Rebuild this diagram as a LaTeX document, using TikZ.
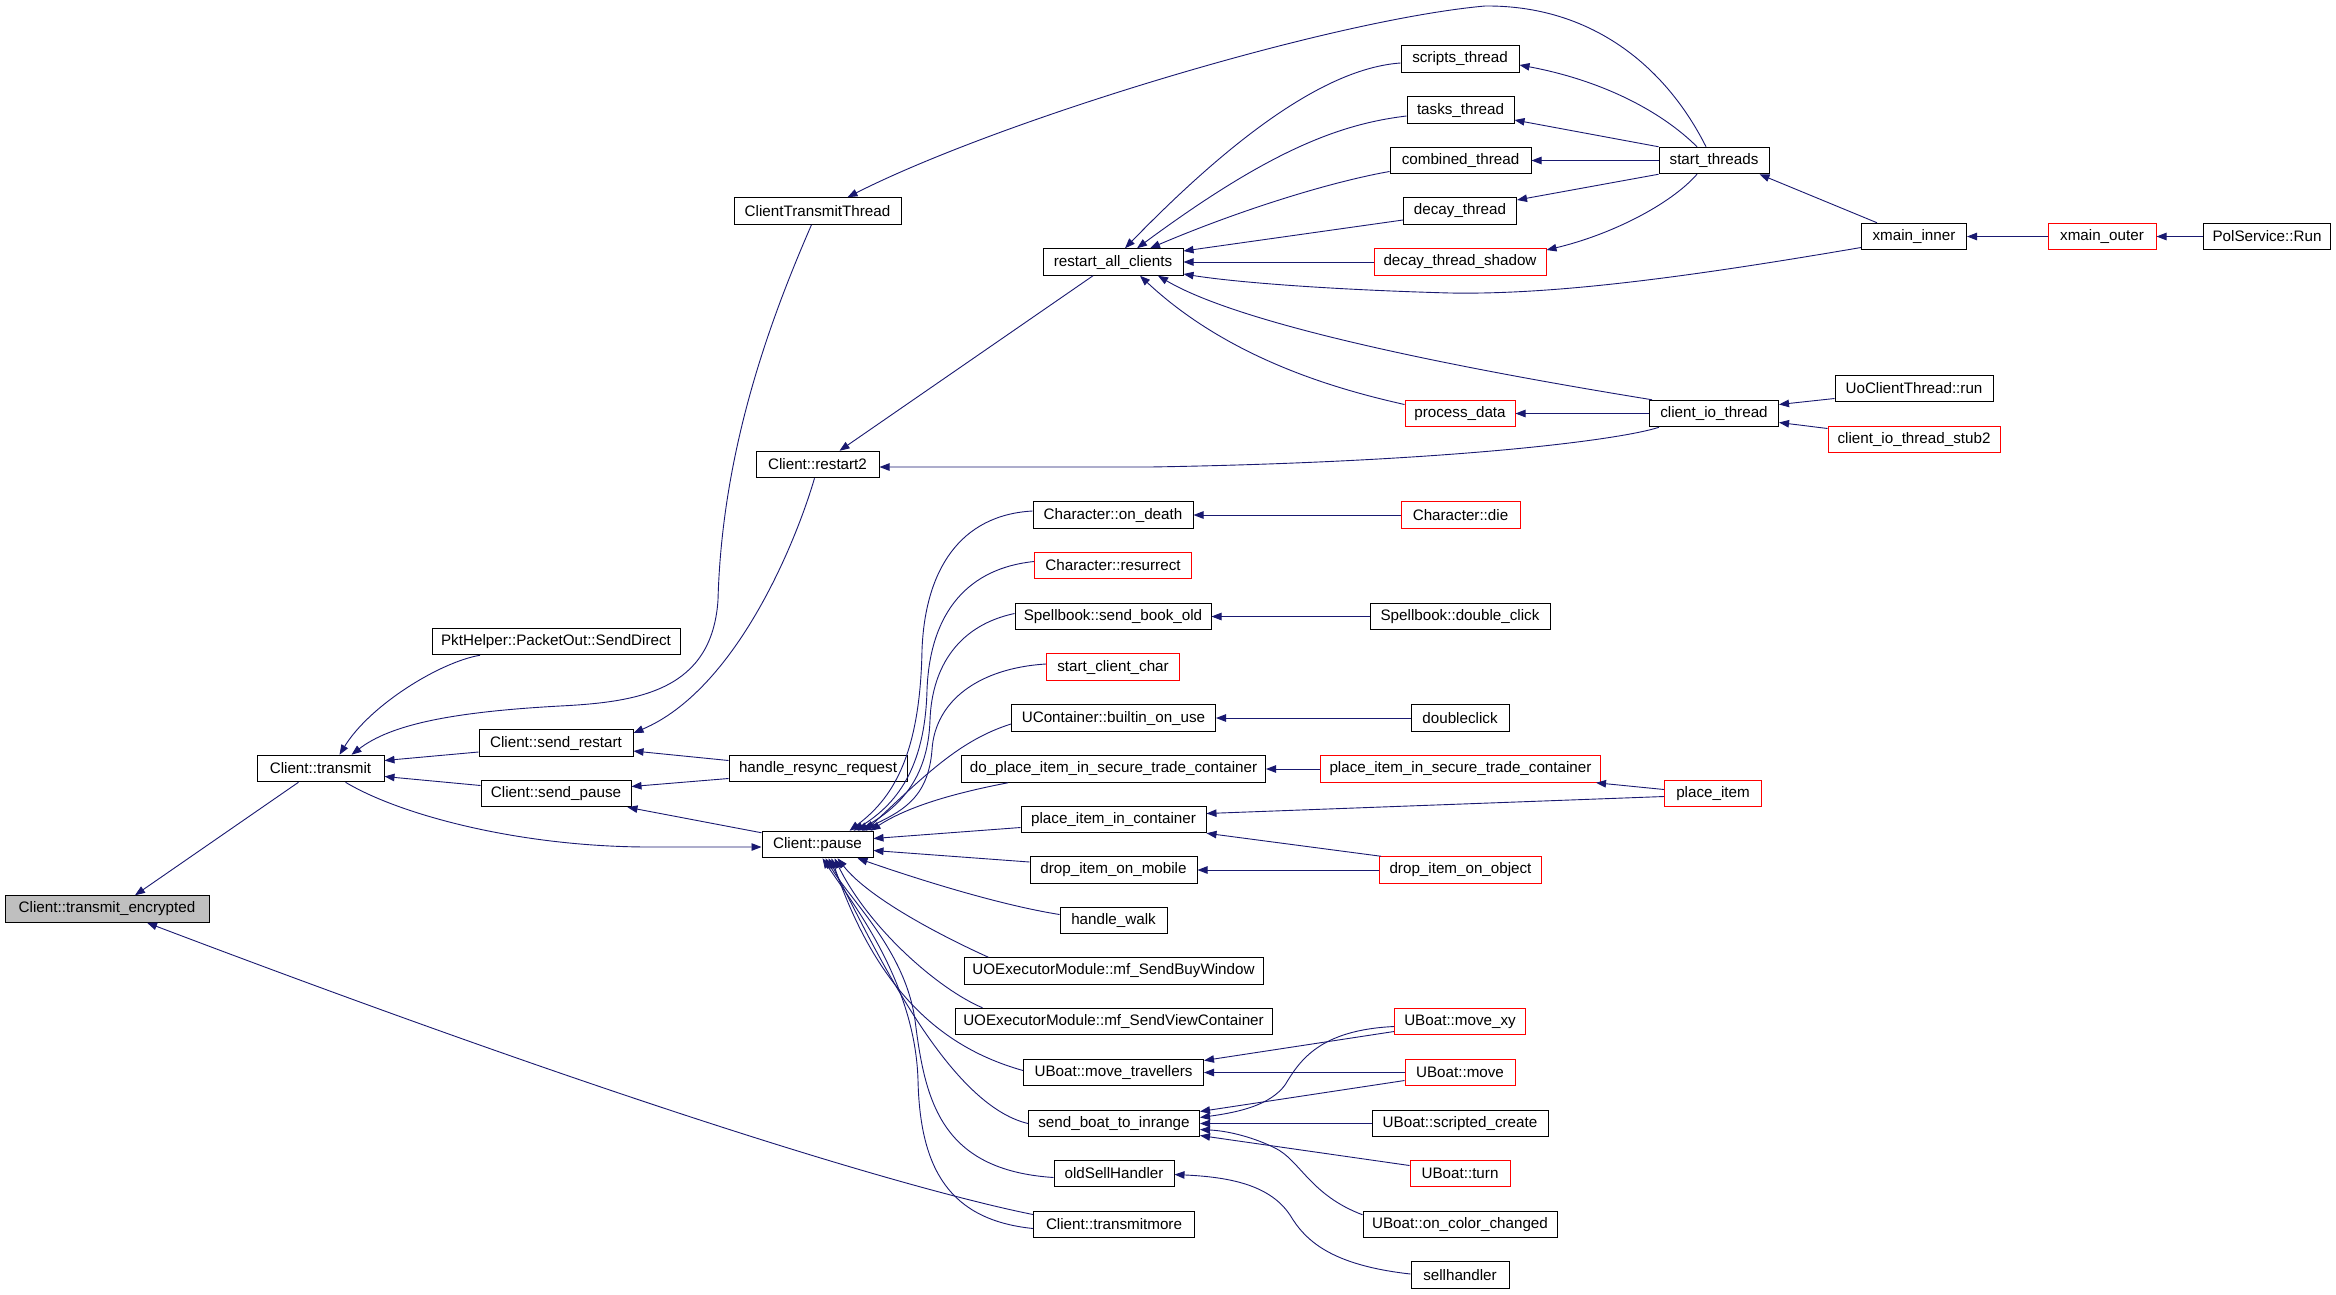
\documentclass[tikz,border=0pt]{standalone}
\usepackage{fontspec}
\setmainfont{Liberation Sans}
\usetikzlibrary{arrows.meta,calc}
\definecolor{edgeblue}{HTML}{191970}
\definecolor{boxred}{HTML}{FF0000}
\definecolor{greyfill}{HTML}{BFBFBF}
\tikzset{
  nd/.style={rectangle, draw=black, line width=1pt, inner sep=0pt, minimum height=26.5pt,
    font=\fontsize{15.2}{17}\selectfont, fill=white},
  rnd/.style={nd, draw=boxred},
  edge/.style={draw=edgeblue, line width=0.9pt, -{Triangle[length=10pt,width=7.5pt]}},
}
\begin{document}
\begin{tikzpicture}[x=1pt,y=-1pt]
\fill[white] (0,0) rectangle (2336,1294);
\useasboundingbox (0,0) rectangle (2336,1294);
% nodes
\node[nd, fill=greyfill, minimum width=204pt] (tenc) at (107,909) {Client::transmit\_encrypted};
\node[nd, minimum width=127pt] (trans) at (320.5,768.5) {Client::transmit};
\node[nd, minimum width=248pt] (pkt) at (556,641.5) {PktHelper::PacketOut::SendDirect};
\node[nd, minimum width=167pt] (ctt) at (817.5,211) {ClientTransmitThread};
\node[nd, minimum width=154pt] (srest) at (556,743) {Client::send\_restart};
\node[nd, minimum width=150pt] (spause) at (556,793.5) {Client::send\_pause};
\node[nd, minimum width=178pt] (resync) at (818,768.5) {handle\_resync\_request};
\node[nd, minimum width=111pt] (pause) at (817.5,844.5) {Client::pause};
\node[nd, minimum width=123pt] (restart2) at (817.5,464.5) {Client::restart2};
\node[nd, minimum width=140pt] (rac) at (1113,262) {restart\_all\_clients};
\node[nd, minimum width=118pt] (scripts) at (1460,59) {scripts\_thread};
\node[nd, minimum width=107pt] (tasks) at (1460.5,110) {tasks\_thread};
\node[nd, minimum width=141pt] (combined) at (1460.5,160.5) {combined\_thread};
\node[nd, minimum width=113pt] (decay) at (1460,211) {decay\_thread};
\node[rnd, minimum width=172pt] (dts) at (1460,262) {decay\_thread\_shadow};
\node[nd, minimum width=110pt] (startt) at (1714,160.5) {start\_threads};
\node[rnd, minimum width=110pt] (procd) at (1460,413.5) {process\_data};
\node[nd, minimum width=129pt] (cit) at (1714,413.5) {client\_io\_thread};
\node[nd, minimum width=105pt] (xinner) at (1914,236.5) {xmain\_inner};
\node[rnd, minimum width=108pt] (xouter) at (2102,236.5) {xmain\_outer};
\node[nd, minimum width=127pt] (polrun) at (2267,236.5) {PolService::Run};
\node[nd, minimum width=158pt] (uoct) at (1914,388.5) {UoClientThread::run};
\node[rnd, minimum width=172pt] (stub2) at (1914,439.5) {client\_io\_thread\_stub2};
\node[nd, minimum width=160pt] (ondeath) at (1113,515) {Character::on\_death};
\node[rnd, minimum width=119pt] (chdie) at (1460.5,515) {Character::die};
\node[rnd, minimum width=157pt] (resur) at (1113,565.5) {Character::resurrect};
\node[nd, minimum width=196pt] (sbold) at (1113,616.5) {Spellbook::send\_book\_old};
\node[nd, minimum width=180pt] (sbdc) at (1460,616.5) {Spellbook::double\_click};
\node[rnd, minimum width=133pt] (scc) at (1113,667) {start\_client\_char};
\node[nd, minimum width=204pt] (ucont) at (1113.5,718) {UContainer::builtin\_on\_use};
\node[nd, minimum width=98pt] (dblclick) at (1460,718) {doubleclick};
\node[nd, minimum width=304pt] (dopist) at (1113.5,769) {do\_place\_item\_in\_secure\_trade\_container};
\node[rnd, minimum width=280pt] (pistc) at (1460.5,769) {place\_item\_in\_secure\_trade\_container};
\node[nd, minimum width=185pt] (pic) at (1113.5,819.5) {place\_item\_in\_container};
\node[rnd, minimum width=97pt] (placeitem) at (1713,793.5) {place\_item};
\node[nd, minimum width=167pt] (dimob) at (1113.5,870) {drop\_item\_on\_mobile};
\node[rnd, minimum width=162pt] (diobj) at (1460.5,870) {drop\_item\_on\_object};
\node[nd, minimum width=107pt] (hwalk) at (1113.5,920.5) {handle\_walk};
\node[nd, minimum width=299pt] (buyw) at (1113.5,971) {UOExecutorModule::mf\_SendBuyWindow};
\node[nd, minimum width=317pt] (viewc) at (1113.5,1021.5) {UOExecutorModule::mf\_SendViewContainer};
\node[rnd, minimum width=131pt] (movexy) at (1460,1021.5) {UBoat::move\_xy};
\node[nd, minimum width=180pt] (movetr) at (1113.5,1072.5) {UBoat::move\_travellers};
\node[rnd, minimum width=110pt] (ubmove) at (1460,1072.5) {UBoat::move};
\node[nd, minimum width=171pt] (sbti) at (1114,1123.5) {send\_boat\_to\_inrange};
\node[nd, minimum width=176pt] (screate) at (1460,1123.5) {UBoat::scripted\_create};
\node[nd, minimum width=120pt] (oldsell) at (1114,1173.5) {oldSellHandler};
\node[rnd, minimum width=100pt] (ubturn) at (1460,1173.5) {UBoat::turn};
\node[nd, minimum width=161pt] (tmore) at (1114,1224.5) {Client::transmitmore};
\node[nd, minimum width=194pt] (occ) at (1460,1224.5) {UBoat::on\_color\_changed};
\node[nd, minimum width=98pt] (sellh) at (1460,1275) {sellhandler};
% edges
\draw[edge] ($(trans.south)+(-22,0)$) -- ($(tenc.north)+(28,0)$);
\draw[edge] ($(tmore.west)+(0,-10)$) .. controls (960,1200) and (720,1140) .. ($(tenc.south)+(40,0)$);
\draw[edge] ($(pkt.south)+(-76,0)$) .. controls (440,662) and (370,705) .. ($(trans.north)+(19,0)$);
\draw[edge] ($(ctt.south)+(-6,0)$) .. controls (770,320) and (722,450) .. (718,600) .. controls (712,690) and (640,702) .. (560,706) .. controls (450,712) and (390,725) .. ($(trans.north)+(31,0)$);
\draw[edge] ($(srest.west)+(0,9)$) -- ($(trans.east)+(0,-8)$);
\draw[edge] ($(spause.west)+(0,-8)$) -- ($(trans.east)+(0,8)$);
\draw[edge] ($(trans.south)+(25,0)$) .. controls (400,815) and (520,847) .. (650,847) -- ($(pause.west)+(0,2.5)$);
\draw[edge] ($(pause.north west)+(0,2)$) -- ($(spause.south east)+(-4,0)$);
\draw[edge] ($(resync.west)+(0,-8)$) -- ($(srest.east)+(0,8)$);
\draw[edge] ($(resync.west)+(0,10)$) -- ($(spause.east)+(0,-7)$);
\draw[edge] ($(restart2.south)+(-3,0)$) .. controls (795,545) and (735,690) .. ($(srest.east)+(0,-10)$);
\draw[edge] ($(rac.south)+(-20,0)$) -- ($(restart2.north)+(22,0)$);
\draw[edge] ($(cit.south west)+(10,0)$) .. controls (1620,440) and (1450,462) .. (1150,467) -- ($(restart2.east)+(0,2.5)$);
\draw[edge] ($(startt.north)+(-8,0)$) .. controls (1665,65) and (1590,5) .. (1485,6) .. controls (1330,20) and (1000,120) .. ($(ctt.north)+(30,0)$);
\draw[edge] ($(scripts.west)+(0,4)$) .. controls (1330,68) and (1240,130) .. ($(rac.north)+(12,0)$);
\draw[edge] ($(tasks.west)+(0,6)$) .. controls (1340,124) and (1270,150) .. ($(rac.north)+(24,0)$);
\draw[edge] ($(combined.west)+(0,11)$) .. controls (1330,182) and (1240,210) .. ($(rac.north)+(37,0)$);
\draw[edge] ($(decay.west)+(0,9)$) -- ($(rac.east)+(0,-11)$);
\draw[edge] (dts.west) -- (dts.west -| rac.east);
\draw[edge] ($(xinner.west)+(0,11)$) .. controls (1700,275) and (1560,295) .. (1450,293) .. controls (1340,290) and (1240,283) .. ($(rac.east)+(0,12)$);
\draw[edge] ($(cit.north west)+(3,0)$) .. controls (1500,375) and (1250,330) .. ($(rac.south)+(45,0)$);
\draw[edge] ($(procd.west)+(0,-9)$) .. controls (1340,390) and (1230,360) .. ($(rac.south)+(27,0)$);
\draw[edge] ($(startt.north)+(-17,0)$) .. controls (1660,110) and (1600,80) .. ($(scripts.east)+(0,6)$);
\draw[edge] (startt.north west) -- ($(tasks.east)+(0,10)$);
\draw[edge] (startt.west) -- (combined.east);
\draw[edge] (startt.south west) -- ($(decay.east)+(0,-11)$);
\draw[edge] ($(startt.south)+(-17,0)$) .. controls (1670,205) and (1610,235) .. ($(dts.east)+(0,-12)$);
\draw[edge] ($(xinner.north west)+(16,0)$) -- ($(startt.south east)+(-10,0)$);
\draw[edge] (xouter.west) -- (xinner.east);
\draw[edge] (polrun.west) -- (xouter.east);
\draw[edge] (cit.west) -- (procd.east);
\draw[edge] ($(uoct.west)+(0,10)$) -- ($(cit.east)+(0,-9)$);
\draw[edge] ($(stub2.west)+(0,-11)$) -- ($(cit.east)+(0,9)$);
% callers of Client::pause
\draw[edge] ($(ondeath.west)+(0,-4)$) .. controls (960,515) and (925,570) .. (922,650) .. controls (920,760) and (890,800) .. ($(pause.north)+(32,0)$);
\draw[edge] ($(resur.west)+(0,-4)$) .. controls (970,568) and (930,610) .. (927,690) .. controls (925,770) and (895,805) .. ($(pause.north)+(36,0)$);
\draw[edge] ($(sbold.west)+(0,-3)$) .. controls (960,625) and (932,665) .. (930,720) .. controls (928,780) and (898,808) .. ($(pause.north)+(40,0)$);
\draw[edge] ($(scc.west)+(0,-3)$) .. controls (980,668) and (935,700) .. (932,750) .. controls (928,800) and (900,812) .. ($(pause.north)+(44,0)$);
\draw[edge] ($(ucont.west)+(0,6)$) .. controls (960,740) and (925,775) .. ($(pause.north)+(48,0)$);
\draw[edge] ($(dopist.south west)+(47,0)$) .. controls (960,792) and (910,805) .. ($(pause.north east)+(-3,0)$);
\draw[edge] ($(pic.west)+(0,8)$) -- ($(pause.east)+(0,-6)$);
\draw[edge] ($(dimob.west)+(0,-8)$) -- ($(pause.east)+(0,6)$);
\draw[edge] ($(hwalk.west)+(0,-6)$) .. controls (1000,905) and (920,880) .. ($(pause.south)+(40,0)$);
\draw[edge] ($(buyw.north west)+(25,0)$) .. controls (950,940) and (870,900) .. ($(pause.south)+(20,0)$);
\draw[edge] ($(viewc.north west)+(28,0)$) .. controls (940,990) and (870,930) .. ($(pause.south)+(17,0)$);
\draw[edge] ($(movetr.west)+(0,-2)$) .. controls (950,1050) and (880,1000) .. ($(pause.south)+(14,0)$);
\draw[edge] (sbti.west) .. controls (950,1105) and (880,960) .. ($(pause.south)+(11,0)$);
\draw[edge] ($(oldsell.west)+(0,4)$) .. controls (940,1170) and (925,1100) .. (915,1020) .. controls (905,950) and (850,900) .. ($(pause.south)+(8,0)$);
\draw[edge] ($(tmore.west)+(0,4)$) .. controls (950,1220) and (920,1170) .. (918,1080) .. controls (915,980) and (850,900) .. ($(pause.south)+(5,0)$);
% right-hand callers
\draw[edge] (chdie.west) -- (chdie.west -| ondeath.east);
\draw[edge] (sbdc.west) -- (sbdc.west -| sbold.east);
\draw[edge] (dblclick.west) -- (dblclick.west -| ucont.east);
\draw[edge] (pistc.west) -- (pistc.west -| dopist.east);
\draw[edge] ($(placeitem.west)+(0,-4)$) -- ($(pistc.south east)+(-5,0)$);
\draw[edge] ($(placeitem.west)+(0,3)$) -- ($(pic.east)+(0,-6)$);
\draw[edge] ($(diobj.north west)+(2,0)$) -- (pic.south east);
\draw[edge] (diobj.west) -- (diobj.west -| dimob.east);
\draw[edge] ($(movexy.west)+(0,10)$) -- ($(movetr.east)+(0,-12)$);
\draw[edge] (ubmove.west) -- (ubmove.west -| movetr.east);
\draw[edge] ($(movexy.west)+(0,5)$) .. controls (1320,1030) and (1300,1060) .. (1285,1085) .. controls (1270,1105) and (1240,1112) .. ($(sbti.east)+(0,-6)$);
\draw[edge] ($(ubmove.west)+(0,8)$) -- ($(sbti.east)+(0,-12)$);
\draw[edge] (screate.west) -- (screate.west -| sbti.east);
\draw[edge] ($(ubturn.west)+(0,-8)$) -- ($(sbti.east)+(0,12)$);
\draw[edge] ($(occ.north west)+(0,4)$) .. controls (1310,1195) and (1300,1160) .. (1275,1148) .. controls (1255,1138) and (1230,1131) .. ($(sbti.east)+(0,6)$);
\draw[edge] ($(sellh.west)+(0,-1)$) .. controls (1330,1265) and (1305,1240) .. (1290,1215) .. controls (1270,1185) and (1230,1177) .. ($(oldsell.east)+(0,1)$);
\end{tikzpicture}
\end{document}
